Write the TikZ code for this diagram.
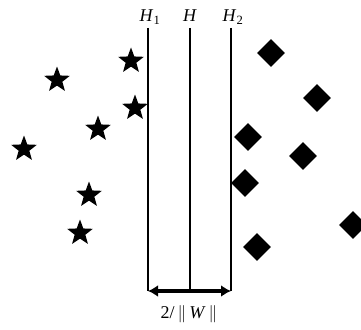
\documentclass[tikz,border=0pt]{standalone}
\usepackage{fontspec}
\setmainfont{Liberation Serif}
\usepackage{tikz}
\usetikzlibrary{arrows.meta,positioning,shapes.geometric}
\definecolor{Ink}{HTML}{000000}
\tikzset{
  starpt/.style={star,star points=5,star point ratio=2.4,minimum size=27pt,inner sep=0pt,fill=Ink,draw=none},
  diapt/.style={diamond,aspect=1,minimum size=28pt,inner sep=0pt,fill=Ink,draw=none},
  hyper/.style={line width=1.3pt,color=Ink},
  hlabel/.style={inner sep=0pt,anchor=base,font=\fontsize{18}{20}\selectfont}
}
\newcommand{\hplane}[4]{%
  \coordinate (#1t) at (#3,28);
  \coordinate (#1b) at (#3,291);
  \node[hlabel] (#1) at (#3+#4,22) {#2};
  \draw[hyper] (#1t) -- (#1b);}

\begin{document}
\begin{tikzpicture}[x=1pt,y=-1pt]
    \useasboundingbox (0,0) rectangle (361,329);
    \hplane{h1}{\textit{H}\textsubscript{1}}{148}{2}
    \hplane{h}{\textit{H}}{190}{0}
    \hplane{h2}{\textit{H}\textsubscript{2}}{231}{2}
    % class one
    \foreach \n/\x/\y in {1/131/61,2/57/80,3/135/108,4/98/129,5/24/149,6/89/195,7/80/233}
      \node[starpt] (s\n) at (\x,\y) {};
    % class two
    \foreach \n/\x/\y in {1/271/53,2/317/98,3/248/137,4/303/156,5/245/183,6/353/225,7/257/247}
      \node[diapt] (d\n) at (\x,\y) {};
    \draw[{Latex[length=10pt,width=12pt]}-{Latex[length=10pt,width=12pt]},line width=4pt,color=Ink] (h1b) -- (h2b);
    \node[hlabel] (margin) at (189,318) {2/\,$\|$\,\textit{W}\,$\|$};
  \end{tikzpicture}
\end{document}
